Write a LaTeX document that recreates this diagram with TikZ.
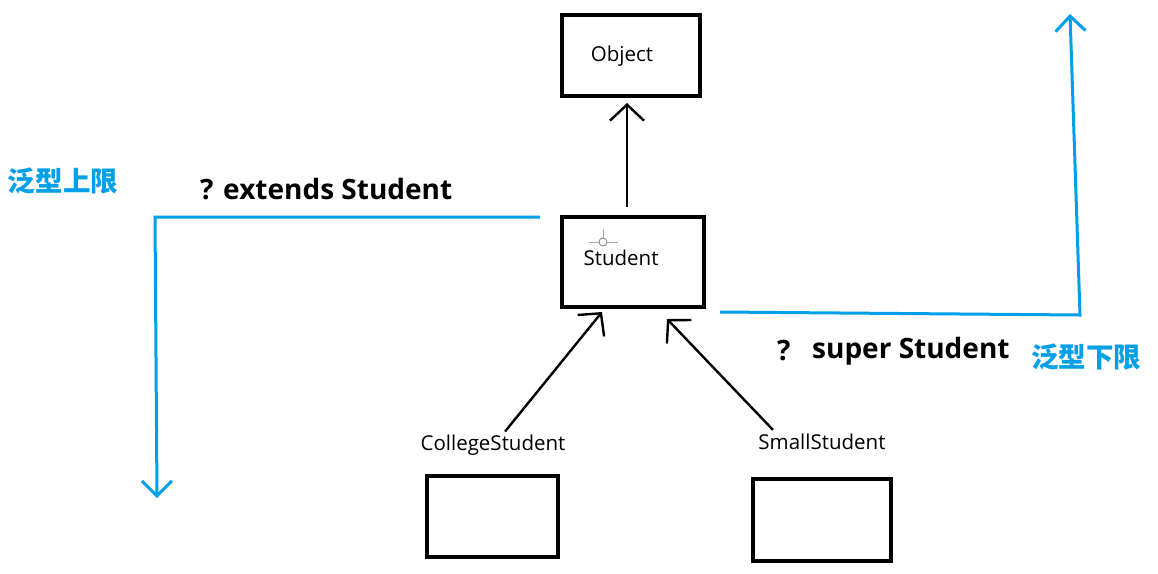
\documentclass[tikz,border=0pt]{standalone}
\usepackage{fontspec}
\setmainfont{Open Sans}
\newfontfamily\cjk{Noto Sans CJK SC}
\usetikzlibrary{arrows.meta}
\definecolor{sky}{RGB}{0,160,233}
\begin{document}
\begin{tikzpicture}[x=1pt,y=-1pt,
  box/.style={draw=black,line width=4pt,inner sep=0pt,fill=white},
  lbl/.style={font=\fontsize{20.5}{23}\selectfont,inner sep=1pt},
  bold/.style={font=\fontsize{28}{31}\selectfont\bfseries,inner sep=0pt},
  cn/.style={font=\fontsize{27.5}{31}\selectfont\cjk\bfseries,text=sky,inner sep=0pt},
  inh/.style={draw=black,line width=2.4pt,-{Straight Barb[length=16pt,width=34pt,line width=2.4pt]}},
  bound/.style={draw=sky,line width=3pt,-{Straight Barb[length=15pt,width=30pt,line width=3pt]}}]
\useasboundingbox (0,0) rectangle (1158,573);
\fill[white] (0,0) rectangle (1158,573);
% boxes
\node[box,minimum width=138pt,minimum height=81pt,label={[lbl,xshift=-9pt,yshift=-1pt]center:Object}] (obj) at (631,55.5) {};
\node[box,minimum width=142pt,minimum height=90pt,label={[lbl,xshift=-12pt,yshift=4pt]center:Student}] (stu) at (633,262) {};
\node[box,minimum width=131pt,minimum height=81pt] (col) at (492.5,516.5) {};
\node[box,minimum width=138pt,minimum height=82pt] (sml) at (822,520) {};
% class labels
\node[lbl] (clbl) at (493,445) {CollegeStudent};
\node[lbl] (slbl) at (822,442) {SmallStudent};
% cursor mark
\draw[gray,line width=0.8pt] (603,242) circle (4);
\draw[gray!70,line width=0.8pt] (589,242) -- (599,242) (607,242) -- (618,242) (603,229) -- (603,238);
% inheritance arrows
\draw[inh] ([xshift=-6pt,yshift=8pt]stu.north) -- ([xshift=-4pt,yshift=-5pt]obj.south);
\draw[inh] ([xshift=12pt,yshift=2pt]clbl.north) -- ([xshift=-31pt,yshift=-3pt]stu.south);
\draw[inh] ([xshift=-49pt,yshift=3pt]slbl.north) -- ([xshift=34pt,yshift=-10pt]stu.south);
% bounds
\coordinate (lstart) at ([xshift=-20pt,yshift=-2pt]stu.north west);
\coordinate (lend) at (157,498);
\draw[bound] (lstart) -- (155,217) -- (lend);
\coordinate (rstart) at ([xshift=14pt,yshift=-3pt]stu.south east);
\coordinate (rend) at (1070,14);
\draw[bound] (rstart) -- (1080,315) -- (rend);
% texts
\node[cn] (up) at (63,181) {泛型上限};
\node[bold,anchor=west] (ext) at (200,189) {? extends Student};
\node[bold,anchor=west] (q) at (777,351) {?};
\node[bold,anchor=west] (sup) at (812,351) {super Student};
\node[cn] (low) at (1086,357) {泛型下限};
\end{tikzpicture}
\end{document}
